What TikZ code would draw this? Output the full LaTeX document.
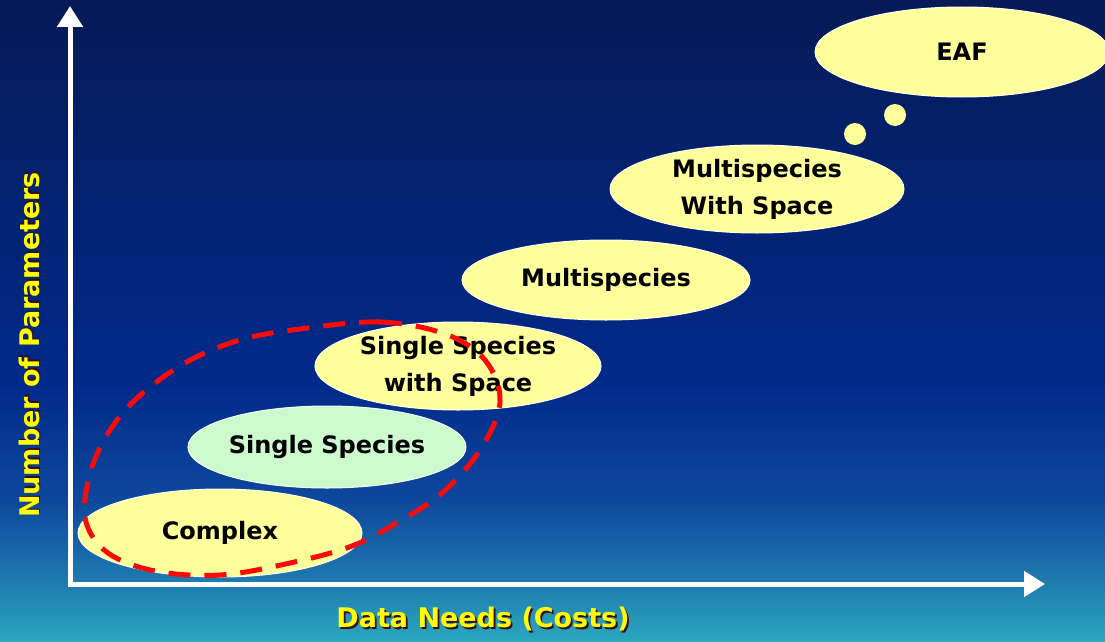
\documentclass[tikz,border=0pt]{standalone}
\usepackage{fontspec}
\setmainfont{DejaVu Sans}
\usetikzlibrary{shapes.geometric,arrows.meta}
\definecolor{bgtop}{RGB}{6,26,86}
\definecolor{bgmid}{RGB}{0,42,138}
\definecolor{bglow}{RGB}{14,72,156}
\definecolor{bgtl}{RGB}{30,125,176}
\definecolor{bgbot}{RGB}{42,168,190}
\definecolor{bubyellow}{RGB}{255,255,155}
\definecolor{bubgreen}{RGB}{205,250,205}
\definecolor{dashred}{RGB}{250,10,10}
\definecolor{labyellow}{RGB}{255,255,0}
\definecolor{shadowdark}{RGB}{60,10,10}
\newcommand\shadowedtext[1]{\leavevmode\rlap{\kern1.8pt\raisebox{-1.8pt}{\textcolor{shadowdark}{#1}}}#1}
\pgfdeclareverticalshading{slidebg}{100bp}{color(0bp)=(bgbot); color(25bp)=(bgbot); color(29.5bp)=(bgtl); color(36bp)=(bglow); color(45bp)=(bgmid); color(75bp)=(bgtop); color(100bp)=(bgtop)}
\tikzset{
  bub/.style={ellipse, fill=bubyellow, draw=white!80!bubyellow, line width=1pt, inner sep=0pt,
    font=\fontsize{24}{37}\selectfont\bfseries, align=center, text=black},
  axisline/.style={white, line width=5pt, {Triangle[width=25pt,length=21pt]}-{Triangle[width=25pt,length=21pt]}},
  axlab/.style={font=\fontsize{27}{30}\selectfont\bfseries, text=labyellow},
  dot/.style={circle, fill=bubyellow, inner sep=0pt, minimum size=22pt},
  redloop/.style={dashred, line width=5pt, dash pattern=on 22pt off 14pt}
}
\begin{document}
\begin{tikzpicture}[x=1pt,y=-1pt]
\useasboundingbox (0,0) rectangle (1105,642);
\shade[shading=slidebg] (0,0) rectangle (1105,642);
% axes
\coordinate (O) at (70,584);
\coordinate (ytip) at (70,6);
\coordinate (xtip) at (1045,584);
\draw[axisline] (ytip) -- (O) -- (xtip);
% bubbles
\node[bub, minimum width=294pt, minimum height=90pt] (eaf) at (962,52) {EAF};
\node[dot] (dotA) at (895,115) {};
\node[dot] (dotB) at (855,134) {};
\node[bub, minimum width=294pt, minimum height=88pt] (mws) at (757,189) {Multispecies\\With Space};
\node[bub, minimum width=288pt, minimum height=80pt] (ms) at (606,280) {Multispecies};
\node[bub, minimum width=286pt, minimum height=88pt] (ssws) at (458,366) {Single Species\\with Space};
\node[bub, fill=bubgreen, draw=white!80!bubgreen, minimum width=278pt, minimum height=82pt] (ss) at (327,447) {Single Species};
\node[bub, minimum width=284pt, minimum height=88pt] (cx) at (220,533) {Complex};
% red dashed loop
\draw[redloop] plot[smooth cycle, tension=0.6] coordinates {
  (300,329) (380,322) (445,334) (485,360) (500,402) (480,450) (442,493) (398,522) (352,546)
  (290,563) (220,575) (155,571) (108,553) (86,522) (88,482) (104,440) (135,400) (185,363) (240,340)};
% axis labels
\node[axlab] (xlab) at (483,620) {\shadowedtext{Data Needs (Costs)}};
\node[axlab, rotate=90] (ylab) at (30,345) {\shadowedtext{Number of Parameters}};
\end{tikzpicture}
\end{document}
